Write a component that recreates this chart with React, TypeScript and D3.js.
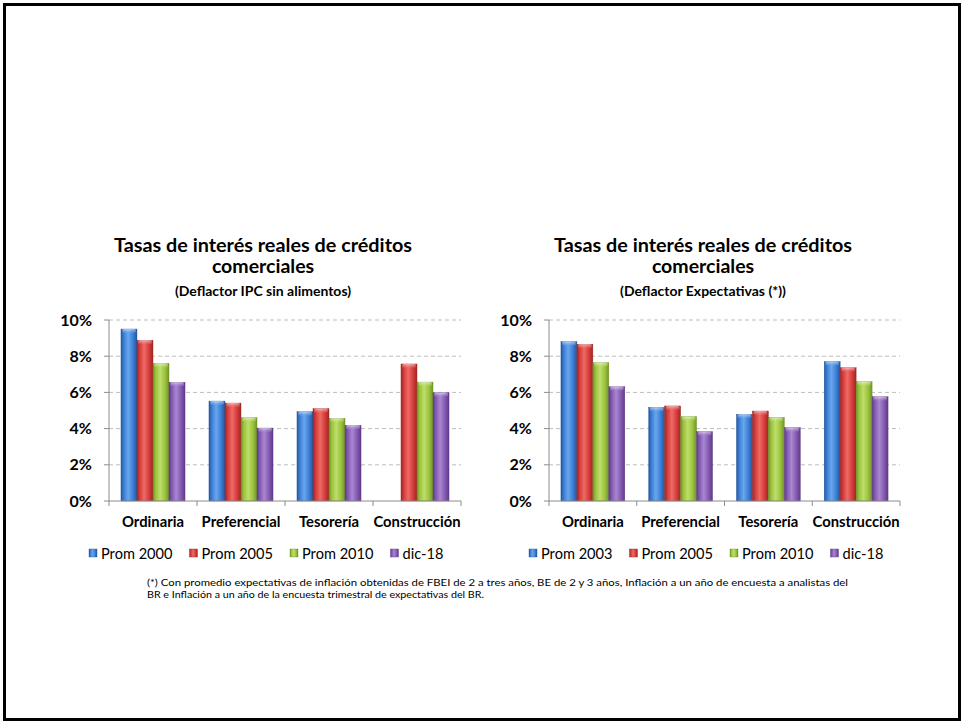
import React from "react";
import * as d3 from "d3";

const categories = ["Ordinaria", "Preferencial", "Tesorería", "Construcción"];

// Left chart (Deflactor IPC sin alimentos)
const leftSeriesNames = ["Prom 2000", "Prom 2005", "Prom 2010", "dic-18"];
const leftProm2000: (number | null)[] = [9.5, 5.52, 4.93, null];
const leftProm2005: (number | null)[] = [8.88, 5.41, 5.1, 7.57];
const leftProm2010: (number | null)[] = [7.6, 4.6, 4.57, 6.57];
const leftDic18: (number | null)[] = [6.56, 4.03, 4.18, 5.98];

// Right chart (Deflactor Expectativas)
const rightSeriesNames = ["Prom 2003", "Prom 2005", "Prom 2010", "dic-18"];
const rightProm2003: (number | null)[] = [8.8, 5.17, 4.79, 7.7];
const rightProm2005: (number | null)[] = [8.66, 5.25, 4.97, 7.36];
const rightProm2010: (number | null)[] = [7.64, 4.66, 4.62, 6.59];
const rightDic18: (number | null)[] = [6.31, 3.83, 4.05, 5.76];

const yTicks = [0, 2, 4, 6, 8, 10];

const titleLine1 = "Tasas de interés reales de créditos";
const titleLine2 = "comerciales";
const leftSubtitle = "(Deflactor IPC sin alimentos)";
const rightSubtitle = "(Deflactor Expectativas (*))";
const footnote1 =
  "(*) Con promedio  expectativas de inflación obtenidas de FBEI de  2 a tres años, BE de 2 y  3 años, Inflación a un año de encuesta a analistas del";
const footnote2 =
  "BR e Inflación a un año de la encuesta trimestral de expectativas del BR.";

const palette = [
  { id: "blue", light: "#6aa6ee", base: "#3b7fd6", dark: "#24569f" },
  { id: "red", light: "#ee6a66", base: "#d63c3a", dark: "#9e2624" },
  { id: "green", light: "#bede6a", base: "#9cc33e", dark: "#6f9426" },
  { id: "purple", light: "#a888d0", base: "#8659b3", dark: "#5e3a86" },
];

const FONT = "Lato, 'Open Sans', 'DejaVu Sans', sans-serif";

type ChartProps = {
  x0: number;
  x1: number;
  yTop: number;
  yBottom: number;
  series: (number | null)[][];
  names: string[];
  subtitle: string;
  titleCx: number;
  legendX: number;
};

function BarChart(p: ChartProps) {
  const x = d3.scaleBand<string>().domain(categories).range([p.x0, p.x1]).padding(0);
  const bw = x.bandwidth();
  const inner = d3
    .scaleBand<number>()
    .domain(d3.range(p.series.length))
    .range([bw * 0.136, bw * 0.864])
    .padding(0);
  const y = d3.scaleLinear().domain([0, 10]).range([p.yBottom, p.yTop]);
  const legendPos = d3.scaleLinear().domain([0, 1]).range([p.legendX, p.legendX + 100.5]);

  return (
    <g>
      {/* Titles */}
      <text x={p.titleCx} y={252} textAnchor="middle" fontFamily={FONT} fontWeight="bold" fontSize={19.5}
        textLength={298} lengthAdjust="spacingAndGlyphs">
        {titleLine1}
      </text>
      <text x={p.titleCx} y={273} textAnchor="middle" fontFamily={FONT} fontWeight="bold" fontSize={19.5}>
        {titleLine2}
      </text>
      <text x={p.titleCx} y={296} textAnchor="middle" fontFamily={FONT} fontWeight="bold" fontSize={14}>
        {p.subtitle}
      </text>

      {/* Gridlines */}
      {yTicks.filter((t) => t > 0).map((t) => (
        <line key={"g" + t} x1={p.x0} x2={p.x1} y1={y(t)} y2={y(t)} stroke="#bdbdbd" strokeWidth={1}
          strokeDasharray="4,3" />
      ))}

      {/* Y axis */}
      <line x1={p.x0} x2={p.x0} y1={p.yTop} y2={p.yBottom} stroke="#8c8c8c" strokeWidth={1} />
      {yTicks.map((t) => (
        <g key={"yt" + t}>
          <line x1={p.x0 - 5} x2={p.x0} y1={y(t)} y2={y(t)} stroke="#8c8c8c" />
          <text x={p.x0 - 17} y={y(t) + 5.5} textAnchor="end" fontFamily={FONT} fontWeight="bold" fontSize={16}>
            {t + "%"}
          </text>
        </g>
      ))}

      {/* Bars */}
      {categories.map((c, ci) => (
        <g key={c}>
          {p.series.map((s, si) => {
            const v = s[ci];
            if (v === null || v === undefined) return null;
            const bx = (x(c) as number) + (inner(si) as number);
            const w = inner.bandwidth();
            const top = y(v);
            const h = p.yBottom - top;
            return (
              <g key={si}>
                <rect x={bx} y={top} width={w} height={h} fill={`url(#grad-${palette[si].id})`}
                  stroke={palette[si].dark} strokeWidth={0.4} />
                <rect x={bx + 1} y={top} width={w - 2} height={4} rx={2} fill={`url(#cap-${palette[si].id})`} />
              </g>
            );
          })}
        </g>
      ))}

      {/* X axis */}
      <line x1={p.x0} x2={p.x1} y1={p.yBottom} y2={p.yBottom} stroke="#8c8c8c" />
      {[...categories.map((c) => x(c) as number), p.x1].map((v, i) => (
        <line key={"xt" + i} x1={v} x2={v} y1={p.yBottom} y2={p.yBottom + 5} stroke="#8c8c8c" />
      ))}
      {categories.map((c) => (
        <text key={"xl" + c} x={(x(c) as number) + bw / 2} y={527} textAnchor="middle" fontFamily={FONT}
          fontWeight="bold" fontSize={14.8}>
          {c}
        </text>
      ))}

      {/* Legend */}
      {p.names.map((n, i) => {
        const lx = legendPos(i);
        return (
          <g key={"lg" + i}>
            <rect x={lx} y={549} width={8} height={8} fill={`url(#grad-${palette[i].id})`}
              stroke={palette[i].dark} strokeWidth={0.4} />
            <text x={lx + 12} y={558.5} fontFamily={FONT} fontSize={14.6} fill="#000">
              {n}
            </text>
          </g>
        );
      })}
    </g>
  );
}

export default function App() {
  const leftSeries = [leftProm2000, leftProm2005, leftProm2010, leftDic18];
  const rightSeries = [rightProm2003, rightProm2005, rightProm2010, rightDic18];
  return (
    <svg width={961} height={721} style={{ position: "absolute", left: 0, top: 0, background: "#fff" }}>
      <defs>
        {palette.map((c) => (
          <React.Fragment key={c.id}>
            <linearGradient id={`grad-${c.id}`} x1="0" x2="1" y1="0" y2="0">
              <stop offset="0%" stopColor={c.dark} />
              <stop offset="18%" stopColor={c.base} />
              <stop offset="45%" stopColor={c.light} />
              <stop offset="75%" stopColor={c.base} />
              <stop offset="100%" stopColor={c.dark} />
            </linearGradient>
            <linearGradient id={`cap-${c.id}`} x1="0" x2="0" y1="0" y2="1">
              <stop offset="0%" stopColor="#ffffff" stopOpacity={0.55} />
              <stop offset="100%" stopColor={c.light} stopOpacity={0.2} />
            </linearGradient>
          </React.Fragment>
        ))}
      </defs>
      <rect x={0} y={0} width={961} height={721} fill="#fff" />
      <rect x={4.5} y={4.5} width={955} height={715} fill="none" stroke="#000" strokeWidth={3} />

      <BarChart x0={109} x1={461} yTop={320} yBottom={501} series={leftSeries} names={leftSeriesNames}
        subtitle={leftSubtitle} titleCx={263} legendX={89} />
      <BarChart x0={549} x1={900} yTop={320} yBottom={501} series={rightSeries} names={rightSeriesNames}
        subtitle={rightSubtitle} titleCx={703} legendX={529} />

      <text x={147} y={586} fontFamily={FONT} fontSize={9.6} textLength={701} lengthAdjust="spacingAndGlyphs">
        {footnote1}
      </text>
      <text x={147} y={598} fontFamily={FONT} fontSize={9.6} textLength={337} lengthAdjust="spacingAndGlyphs">
        {footnote2}
      </text>
    </svg>
  );
}
